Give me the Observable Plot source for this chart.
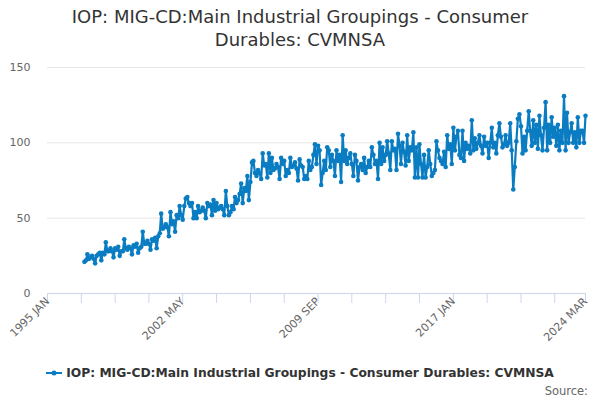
<!DOCTYPE html>
<html>
<head>
<meta charset="utf-8">
<script src="https://cdn.jsdelivr.net/npm/d3@7"></script>
<script src="https://cdn.jsdelivr.net/npm/@observablehq/plot@0.6"></script>
<style>
  html, body { margin: 0; padding: 0; background: #fff; }
  #wrap { position: relative; width: 600px; height: 400px; font-family: "DejaVu Sans", sans-serif; overflow: hidden; }
  #title { position: absolute; left: 0; top: 5px; width: 600px; text-align: center; font-size: 18px; line-height: 23px; color: #333; }
  #chart { position: absolute; left: 0; top: 52px; }
  #chart svg { display: block; }
  #legend { position: absolute; left: 0; top: 363px; width: 600px; height: 20px; display: flex; justify-content: center; align-items: center; font-size: 12.3px; font-weight: bold; color: #333; }
  #legend svg { margin-right: 4px; }
  #source { position: absolute; right: 12px; top: 384px; font-size: 11.5px; color: #666; }
</style>
</head>
<body>
<div id="wrap">
  <div id="title">IOP: MIG-CD:Main Industrial Groupings - Consumer<br>Durables: CVMNSA</div>
  <div id="chart"></div>
  <div id="legend"></div>
  <div id="source">Source:</div>
</div>
<script>
const seriesName = "IOP: MIG-CD:Main Industrial Groupings - Consumer Durables: CVMNSA";
const startYear = 1997;
const startMonth = 0; // January
const values = [
  // 1997
  21,22,26,23,24,25,23,20,25,26,27,22,
  // 1998
  27,26,34,28,28,30,28,24,30,29,31,25,
  // 1999
  28,28,36,30,29,31,30,26,32,31,33,27,
  // 2000
  30,31,41,33,33,35,33,29,36,35,37,30,
  // 2001
  38,40,53,43,44,46,44,38,54,46,48,41,
  // 2002
  52,50,58,52,49,58,63,64,60,58,60,50,
  // 2003
  54,50,58,54,55,57,55,50,60,58,59,52,
  // 2004
  62,55,60,56,57,58,56,52,68,58,52,54,
  // 2005
  58,56,64,60,62,66,73,60,70,68,78,62,
  // 2006
  74,87,88,80,78,82,80,76,93,85,86,77,
  // 2007
  93,80,90,82,83,86,84,76,90,86,88,78,
  // 2008
  82,80,90,84,85,87,83,75,89,85,84,76,
  // 2009
  78,76,88,82,84,92,99,86,98,95,72,80,
  // 2010
  88,82,97,95,84,92,88,78,95,88,92,74,
  // 2011
  105,88,95,86,90,93,86,78,92,88,75,84,
  // 2012
  86,82,90,80,84,88,84,97,92,86,88,76,
  // 2013
  100,86,97,88,92,101,93,82,101,95,96,82,
  // 2014
  106,98,86,100,94,85,105,88,97,95,107,77,
  // 2015
  97,77,99,86,77,92,77,84,95,86,78,80,
  // 2016
  82,101,95,90,88,86,94,84,105,96,99,86,
  // 2017
  110,95,104,108,92,90,108,88,100,96,98,93,
  // 2018
  115,95,103,96,100,105,98,93,104,98,100,90,
  // 2019
  100,110,97,100,93,105,113,104,97,99,105,98,
  // 2020
  100,113,95,69,84,101,116,119,111,93,104,95,
  // 2021
  108,121,108,98,115,100,112,96,118,105,95,110,
  // 2022
  127,95,112,100,117,104,110,98,112,95,108,100,
  // 2023
  131,95,120,100,107,113,100,107,97,117,100,108,
  // 2024
  108,100,118
];
const xDomain = ["1995-01", "2024-03"];
const tickMonths = ["1995-01","1996-11","1998-09","2000-07","2002-05","2004-03","2006-01","2007-11",
  "2009-09","2011-07","2013-05","2015-03","2017-01","2018-11","2020-09","2022-07","2024-03"];
const labelMonths = ["1995-01","2002-05","2009-09","2017-01","2024-03"];
const tickLabels = ["1995 JAN","2002 MAY","2009 SEP","2017 JAN","2024 MAR"];
const yTicks = [0, 50, 100, 150];
const yDomain = [0, 150];

const color = "#0a7cc2";
const parseMonth = s => { const [y, m] = s.split("-").map(Number); return new Date(Date.UTC(y, m - 1, 1)); };
const data = values.map((v, i) => ({ date: new Date(Date.UTC(startYear, startMonth + i, 1)), value: v }));
const labelMap = new Map(labelMonths.map((s, i) => [+parseMonth(s), tickLabels[i]]));

const plot = Plot.plot({
  width: 600,
  height: 308,
  marginLeft: 47,
  marginRight: 15,
  marginTop: 15,
  marginBottom: 67,
  style: { fontFamily: "DejaVu Sans, sans-serif", fontSize: "11px", color: "#666", background: "transparent", overflow: "visible" },
  x: { type: "utc", domain: xDomain.map(parseMonth) },
  y: { domain: yDomain },
  marks: [
    Plot.gridY(yTicks, { stroke: "#e6e6e6", strokeOpacity: 1 }),
    Plot.axisY(yTicks, { tickSize: 0, tickPadding: 17, fill: "#666", fontSize: 11, label: null }),
    Plot.ruleY([0], { stroke: "#ccd6eb" }),
    Plot.axisX(tickMonths.map(parseMonth), { tickSize: 10, stroke: "#ccd6eb", text: null, label: null }),
    Plot.axisX(labelMonths.map(parseMonth), { tickSize: 0, tickPadding: 6, tickRotate: -45, tickFormat: d => labelMap.get(+d), fill: "#666", fontSize: 11, label: null }),
    Plot.line(data, { x: "date", y: "value", stroke: color, strokeWidth: 2.2 }),
    Plot.dot(data, { x: "date", y: "value", r: 2.3, fill: color, stroke: "none" })
  ]
});
document.getElementById("chart").appendChild(plot);

const legend = document.getElementById("legend");
legend.innerHTML = `<svg width="16" height="10"><line x1="0" y1="5" x2="16" y2="5" stroke="${color}" stroke-width="2"/><circle cx="8" cy="5" r="2.5" fill="${color}"/></svg><span></span>`;
legend.querySelector("span").textContent = seriesName;
</script>
</body>
</html>
